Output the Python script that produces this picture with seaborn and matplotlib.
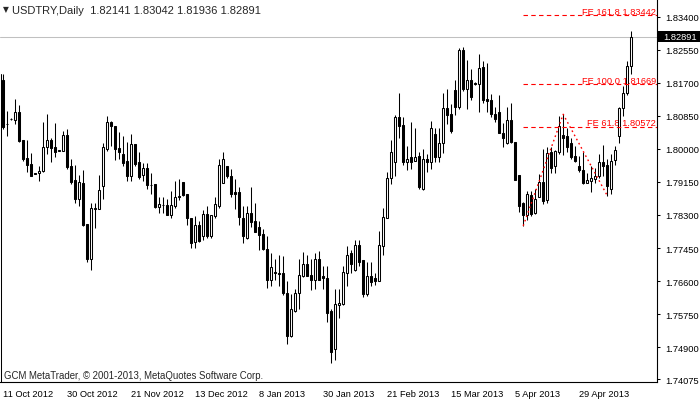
import matplotlib
matplotlib.use("Agg")
import pandas as pd
import matplotlib.pyplot as plt
import matplotlib.transforms as mtransforms
from matplotlib.patches import Rectangle
import seaborn as sns

# USDTRY daily bars (open, high, low, close)
opens = [1.8177, 1.8064, 1.8076, 1.8075, 1.8096, 1.8022, 1.7976, 1.7961, 1.7937, 1.7937,
         1.7942, 1.8006, 1.8022, 1.8006, 1.7995, 1.7995, 1.8035, 1.7956, 1.7919, 1.7870,
         1.7913, 1.7808, 1.7718, 1.7846, 1.7846, 1.7905, 1.7999, 1.8068, 1.8059, 1.8002,
         1.7988, 1.7969, 1.7930, 1.8012, 1.7967, 1.7933, 1.7950, 1.7907, 1.7909, 1.7851,
         1.7855, 1.7855, 1.7830, 1.7853, 1.7875, 1.7916, 1.7883, 1.7823, 1.7760, 1.7803,
         1.7776, 1.7832, 1.7776, 1.7827, 1.7853, 1.7913, 1.7955, 1.7929, 1.7889, 1.7889,
         1.7823, 1.7772, 1.7836, 1.7815, 1.7800, 1.7780, 1.7742, 1.7663, 1.7683, 1.7682,
         1.7682, 1.7630, 1.7518, 1.7583, 1.7628, 1.7673, 1.7705, 1.7675, 1.7662, 1.7718,
         1.7673, 1.7669, 1.7583, 1.7486, 1.7598, 1.7602, 1.7682, 1.7731, 1.7688, 1.7752,
         1.7713, 1.7626, 1.7673, 1.7667, 1.7660, 1.7750, 1.7823, 1.7926, 1.7965, 1.8083,
         1.8061, 1.7965, 1.7980, 1.7969, 1.7982, 1.7898, 1.7973, 1.7965, 1.8038, 1.7978,
         1.8014, 1.8104, 1.8089, 1.8152, 1.8108, 1.8255, 1.8154, 1.8177, 1.8169, 1.8168,
         1.8210, 1.8128, 1.8126, 1.8091, 1.8094, 1.8040, 1.8015, 1.8074, 1.8017, 1.7932,
         1.7860, 1.7829, 1.7881, 1.7834, 1.7876, 1.7916, 1.7868, 1.7991, 1.7956, 1.7991,
         1.8035, 1.8032, 1.8016, 1.7982, 1.7956, 1.7946, 1.7913, 1.7917, 1.7922, 1.7930,
         1.7965, 1.7958, 1.7896, 1.7971, 1.8032, 1.8104, 1.8143, 1.82141]
highs = [1.8192, 1.8098, 1.8079, 1.8128, 1.8113, 1.8023, 1.8023, 1.7989, 1.7938, 1.7956,
         1.8070, 1.8089, 1.8027, 1.8066, 1.7997, 1.8046, 1.8051, 1.7975, 1.7958, 1.7932,
         1.7945, 1.7808, 1.7862, 1.7862, 1.7932, 1.8016, 1.8084, 1.8072, 1.8059, 1.8044,
         1.8033, 1.8019, 1.8038, 1.8012, 1.7992, 1.7963, 1.7963, 1.7939, 1.7909, 1.7877,
         1.7877, 1.7872, 1.7892, 1.7918, 1.7922, 1.7916, 1.7883, 1.7823, 1.7827, 1.7814,
         1.7843, 1.7852, 1.7829, 1.7875, 1.7973, 1.7992, 1.7955, 1.7949, 1.7922, 1.7903,
         1.7852, 1.7852, 1.7903, 1.7860, 1.7815, 1.7793, 1.7776, 1.7733, 1.7716, 1.7726,
         1.7724, 1.7660, 1.7626, 1.7640, 1.7718, 1.7735, 1.7726, 1.7718, 1.7733, 1.7737,
         1.7700, 1.7698, 1.7587, 1.7639, 1.7639, 1.7700, 1.7750, 1.7740, 1.7765, 1.7765,
         1.7713, 1.7709, 1.7709, 1.7682, 1.7789, 1.7849, 1.7941, 1.8022, 1.8087, 1.8145,
         1.8081, 1.8008, 1.8068, 1.8053, 1.7992, 1.8001, 1.7986, 1.8072, 1.8055, 1.8055,
         1.8143, 1.8154, 1.8115, 1.8177, 1.8259, 1.8261, 1.8229, 1.8205, 1.8173, 1.8244,
         1.8227, 1.8221, 1.8141, 1.8109, 1.8138, 1.8066, 1.8107, 1.8118, 1.8017, 1.7932,
         1.7863, 1.7892, 1.7892, 1.7896, 1.7935, 1.7999, 1.8004, 1.8005, 1.7997, 1.8085,
         1.8089, 1.8053, 1.8027, 1.8008, 1.7982, 1.7992, 1.7937, 1.7956, 1.7950, 1.7986,
         1.8009, 1.7973, 1.7986, 1.8008, 1.8109, 1.8161, 1.8226, 1.83042]
lows = [1.8051, 1.8033, 1.8074, 1.8064, 1.8017, 1.7968, 1.7941, 1.7930, 1.7935, 1.7918,
        1.7941, 1.7986, 1.7965, 1.7978, 1.7994, 1.7994, 1.7949, 1.7909, 1.7860, 1.7853,
        1.7802, 1.7709, 1.7688, 1.7797, 1.7845, 1.7870, 1.7995, 1.8008, 1.7972, 1.7973,
        1.7956, 1.7918, 1.7918, 1.7955, 1.7922, 1.7918, 1.7898, 1.7883, 1.7848, 1.7836,
        1.7836, 1.7830, 1.7821, 1.7849, 1.7868, 1.7879, 1.7803, 1.7746, 1.7746, 1.7760,
        1.7766, 1.7772, 1.7772, 1.7823, 1.7849, 1.7912, 1.7926, 1.7877, 1.7846, 1.7803,
        1.7759, 1.7767, 1.7800, 1.7785, 1.7740, 1.7740, 1.7643, 1.7647, 1.7664, 1.7647,
        1.7623, 1.7499, 1.7517, 1.7580, 1.7589, 1.7671, 1.7673, 1.7637, 1.7639, 1.7663,
        1.7639, 1.7554, 1.7450, 1.7458, 1.7566, 1.7598, 1.7647, 1.7680, 1.7687, 1.7700,
        1.7620, 1.7621, 1.7647, 1.7650, 1.7659, 1.7727, 1.7821, 1.7909, 1.7929, 1.8029,
        1.7958, 1.7946, 1.7948, 1.7969, 1.7898, 1.7894, 1.7941, 1.7948, 1.7967, 1.7965,
        1.7989, 1.8064, 1.8040, 1.8087, 1.8102, 1.8149, 1.8102, 1.8126, 1.8164, 1.8095,
        1.8118, 1.8095, 1.8083, 1.8068, 1.8040, 1.8004, 1.8012, 1.8015, 1.7920, 1.7838,
        1.7802, 1.7817, 1.7827, 1.7832, 1.7875, 1.7857, 1.7860, 1.7937, 1.7937, 1.7986,
        1.7984, 1.7992, 1.7975, 1.7967, 1.7941, 1.7909, 1.7911, 1.7889, 1.7911, 1.7926,
        1.7929, 1.7880, 1.7884, 1.7959, 1.8015, 1.8085, 1.8138, 1.81936]
closes = [1.8056, 1.8063, 1.8077, 1.8096, 1.8021, 1.7973, 1.7958, 1.7931, 1.7936, 1.7942,
          1.8006, 1.8022, 1.8003, 1.7993, 1.7996, 1.8035, 1.7954, 1.7916, 1.7870, 1.7915,
          1.7804, 1.7716, 1.7849, 1.7849, 1.7894, 1.8004, 1.8068, 1.8058, 1.7999, 1.7991,
          1.7963, 1.7930, 1.8012, 1.7961, 1.7928, 1.7950, 1.7907, 1.7906, 1.7851, 1.7859,
          1.7856, 1.7830, 1.7855, 1.7877, 1.7879, 1.7881, 1.7821, 1.7759, 1.7803, 1.7763,
          1.7832, 1.7776, 1.7829, 1.7857, 1.7958, 1.7975, 1.7929, 1.7883, 1.7883, 1.7825,
          1.7776, 1.7836, 1.7812, 1.7786, 1.7778, 1.7742, 1.7663, 1.7695, 1.7680, 1.7679,
          1.7628, 1.7518, 1.7589, 1.7628, 1.7675, 1.7705, 1.7673, 1.7663, 1.7716, 1.7664,
          1.7669, 1.7578, 1.7477, 1.7600, 1.7604, 1.7684, 1.7727, 1.7705, 1.7752, 1.7709,
          1.7626, 1.7673, 1.7657, 1.7660, 1.7752, 1.7826, 1.7925, 1.7991, 1.8083, 1.8058,
          1.7966, 1.7973, 1.7965, 1.7978, 1.7901, 1.7973, 1.7965, 1.8055, 1.7978, 1.8016,
          1.8104, 1.8087, 1.8046, 1.8109, 1.8255, 1.8154, 1.8178, 1.8134, 1.8167, 1.8207,
          1.8126, 1.8124, 1.8091, 1.8078, 1.8040, 1.8029, 1.8074, 1.8017, 1.7920, 1.7853,
          1.7829, 1.7883, 1.7832, 1.7872, 1.7916, 1.7866, 1.7990, 1.7952, 1.7995, 1.8058,
          1.8029, 1.8006, 1.7980, 1.7969, 1.7946, 1.7913, 1.7919, 1.7924, 1.7930, 1.7965,
          1.7956, 1.7905, 1.7969, 1.7997, 1.8104, 1.8145, 1.8212, 1.82891]

date_labels = ["11 Oct 2012", "30 Oct 2012", "21 Nov 2012", "13 Dec 2012", "8 Jan 2013",
               "30 Jan 2013", "21 Feb 2013", "15 Mar 2013", "5 Apr 2013", "29 Apr 2013"]
date_bars = [0, 16, 32, 48, 64, 80, 96, 112, 128, 144]
price_ticks = [1.83400, 1.82550, 1.81700, 1.80850, 1.80000, 1.79150,
               1.78300, 1.77450, 1.76600, 1.75750, 1.74900, 1.74075]

# fibonacci expansion drawn on the chart
abc_bars = [130, 140, 151]
abc_prices = [1.7802, 1.8089, 1.7880]
fe_names = ["FE 161.8", "FE 100.0", "FE 61.8"]
fe_levels = [1.83442, 1.81669, 1.80572]

symbol = "USDTRY,Daily"
last_price = closes[-1]

df = pd.DataFrame({"open": opens, "high": highs, "low": lows, "close": closes})
df["bar"] = range(len(df))
df["up"] = df["close"] >= df["open"]

sns.set_style("white")
plt.rcParams["font.family"] = ["Liberation Sans", "DejaVu Sans"]

fig = plt.figure(figsize=(7, 4.02), dpi=100)
ax = fig.add_axes([0, 19.5 / 402, 657 / 700, 382.5 / 402])
xmin, xmax = -0.8, 163.45
ylo, yhi = 1.74016, 1.83856
ax.set_xlim(xmin, xmax)
ax.set_ylim(ylo, yhi)

# current price line
ax.axhline(last_price, color="#c0c0c0", lw=0.75, zorder=1)

# left edge line of the chart window (starts at the first bar's high)
ax.axvline(xmin + 0.25, ymin=0, ymax=(highs[0] - ylo) / (yhi - ylo),
           color="black", lw=0.75, zorder=2)

# candles
ax.vlines(df["bar"], df["low"], df["high"], color="black", lw=0.75, zorder=2)
body_lo = df[["open", "close"]].min(axis=1)
body_h = (df["close"] - df["open"]).abs()
ax.bar(df["bar"], body_h, bottom=body_lo, width=0.5,
       color=["white" if u else "black" for u in df["up"]],
       edgecolor="black", linewidth=0.75, zorder=3)

# fibo expansion: dotted ABC path + dashed levels
sns.lineplot(x=abc_bars, y=abc_prices, ax=ax, color="#ff0000", lw=1,
             linestyle=(0, (1.2, 2.2)), zorder=4)
trans = mtransforms.blended_transform_factory(ax.transAxes, ax.transData)
px = (yhi - ylo) / 382.5
for name, lvl in zip(fe_names, fe_levels):
    ax.plot([abc_bars[0], xmax], [lvl, lvl], color="#ff0000", lw=0.8,
            linestyle=(0, (4, 3)), zorder=4)
    ax.text(0.9985, lvl + 1.5 * px, f"{name} {lvl:.5f}", transform=trans,
            ha="right", va="baseline", color="#ff0000", fontsize=6.7, zorder=2)

# axes styling, MetaTrader look
for s in ["top", "left"]:
    ax.spines[s].set_visible(False)
for s in ["right", "bottom"]:
    ax.spines[s].set_color("black")
    ax.spines[s].set_linewidth(0.8)
ax.yaxis.tick_right()
ax.set_yticks(price_ticks, [f"{p:.5f}" for p in price_ticks])
ax.set_xticks(date_bars, date_labels)
for lab in ax.get_xticklabels():
    lab.set_horizontalalignment("left")
ax.tick_params(axis="y", direction="out", length=2.5, width=0.75, pad=3.5,
               labelsize=6.7, colors="black")
ax.tick_params(axis="x", direction="out", length=3.5, width=0.75, pad=2,
               labelsize=6.7, colors="black")
ax.grid(False)

# current price tag on the price scale
ax.add_patch(Rectangle((1.0015, last_price - 5.2 * px), 43 / 657, 10.4 * px,
                       transform=trans, facecolor="black", edgecolor="none",
                       clip_on=False, zorder=5))
ax.text(1.009, last_price, f"{last_price:.5f}", transform=trans, color="white",
        fontsize=6.7, va="center", ha="left", zorder=6)

# header and footer text
fig.text(3 / 700, 1 - 10 / 402, "\u25bc", fontsize=5.5, va="center", ha="left",
         family=["DejaVu Sans"])
fig.text(12 / 700, 1 - 13.5 / 402,
         f"{symbol}  {opens[-1]:.5f} {highs[-1]:.5f} {lows[-1]:.5f} {closes[-1]:.5f}",
         fontsize=8.0, va="baseline", ha="left")
fig.text(4 / 700, 23 / 402, "GCM MetaTrader, \u00a9 2001-2013, MetaQuotes Software Corp.",
         fontsize=6.9, va="baseline", ha="left")

fig.savefig("out.png", dpi=100, facecolor="white")
